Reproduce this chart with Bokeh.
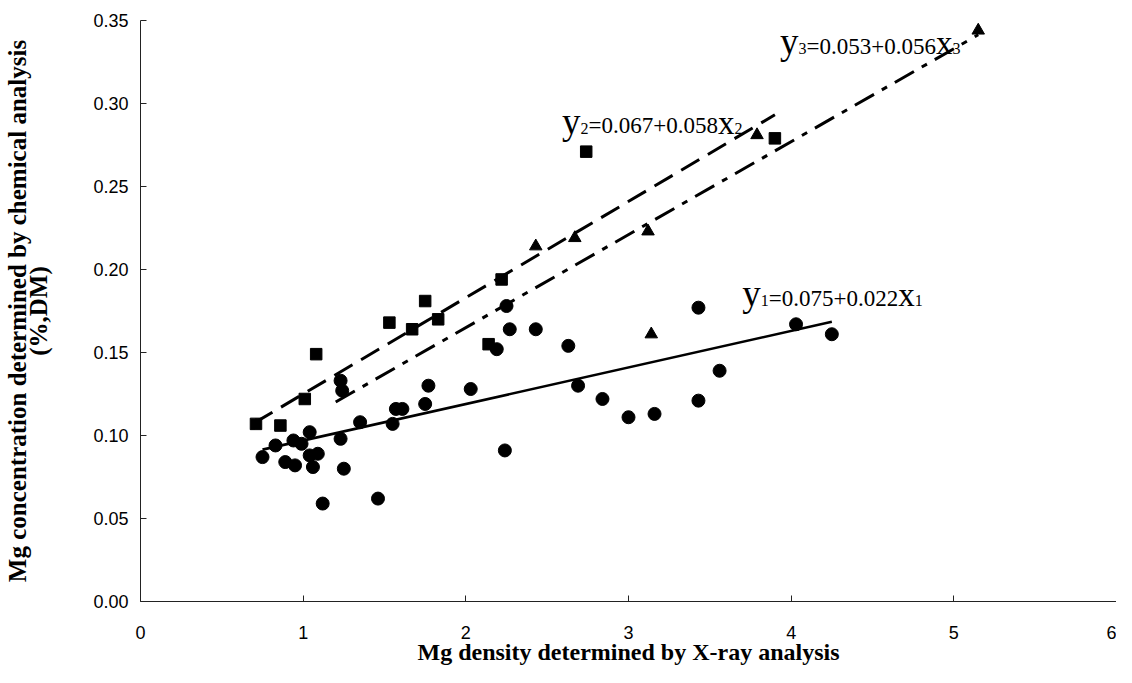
from bokeh.plotting import figure
from bokeh.models import Range1d, FixedTicker, NumeralTickFormatter, ColumnDataSource
from bokeh.core.properties import value
from bokeh.embed import file_html
from bokeh.resources import INLINE

# ---- data ----
circle_x = [0.75, 0.83, 0.89, 0.95, 0.94, 0.99, 1.04, 1.04, 1.09, 1.06, 1.12, 1.23, 1.25,
            1.23, 1.24, 1.35, 1.46, 1.55, 1.57, 1.61, 1.75, 1.77, 2.03, 2.19, 2.24, 2.25,
            2.27, 2.43, 2.63, 2.69, 2.84, 3.00, 3.16, 3.43, 3.43, 3.56, 4.03, 4.25]
circle_y = [0.087, 0.094, 0.084, 0.082, 0.097, 0.095, 0.102, 0.088, 0.089, 0.081, 0.059, 0.098, 0.080,
            0.133, 0.127, 0.108, 0.062, 0.107, 0.116, 0.116, 0.119, 0.130, 0.128, 0.152, 0.091, 0.178,
            0.164, 0.164, 0.154, 0.130, 0.122, 0.111, 0.113, 0.121, 0.177, 0.139, 0.167, 0.161]

square_x = [0.71, 0.86, 1.01, 1.08, 1.53, 1.67, 1.75, 1.83, 2.14, 2.22, 2.74, 3.90]
square_y = [0.107, 0.106, 0.122, 0.149, 0.168, 0.164, 0.181, 0.170, 0.155, 0.194, 0.271, 0.279]

triangle_x = [2.43, 2.67, 3.12, 3.14, 3.79, 5.15]
triangle_y = [0.214, 0.219, 0.223, 0.161, 0.281, 0.344]

# regression equations: intercept, slope, x-extent
fit1 = (0.075, 0.022, 0.75, 4.25)
fit2 = (0.067, 0.058, 0.70, 3.90)
fit3 = (0.053, 0.056, 1.20, 5.15)

x_ticks = [0, 1, 2, 3, 4, 5, 6]
y_ticks = [0.0, 0.05, 0.10, 0.15, 0.20, 0.25, 0.30, 0.35]

x_title = "Mg density determined by X-ray analysis"
y_title = "Mg concentration determined by chemical analysis\n(%,DM)"

# equation labels: parts and anchor (data units)
eq1 = ["y", "1", "=0.075+0.022", "x", "1"]
eq2 = ["y", "2", "=0.067+0.058", "x", "2"]
eq3 = ["y", "3", "=0.053+0.056", "x", "3"]
eq_anchor = [(3.70, 0.1825), (2.591, 0.2865), (3.931, 0.3345)]

# ---- figure ----
p = figure(width=1116, height=667, output_backend="svg", toolbar_location=None,
           x_range=Range1d(0, 6), y_range=Range1d(0, 0.35),
           min_border_left=139, min_border_right=0, min_border_top=20, min_border_bottom=66,
           background_fill_color="white", border_fill_color="white")
p.outline_line_color = None
p.grid.visible = False

def line_pts(f):
    a, b, lo, hi = f
    return [lo, hi], [a + b * lo, a + b * hi]

xs, ys = line_pts(fit1)
p.line(xs, ys, line_color="black", line_width=2.6)
xs, ys = line_pts(fit2)
p.line(xs, ys, line_color="black", line_width=3, line_dash="21 10")
xs, ys = line_pts(fit3)
p.line(xs, ys, line_color="black", line_width=3, line_dash="22 9 6 9")

p.scatter(circle_x, circle_y, marker="circle", size=13, color="black")
p.scatter(square_x, square_y, marker="square", size=11.5, color="black")
p.scatter(triangle_x, triangle_y, marker="triangle", size=12.5, color="black")

# equation text pieces, baselines aligned via per-size vertical compensation
psz = [37, 16, 23, 33, 16]
offsets = [0, 18.5, 26.5, 156.0, 172.5]
k = 0.33
for eq, (ax, ay) in zip([eq1, eq2, eq3], eq_anchor):
    src = ColumnDataSource(dict(x=[ax] * 5, y=[ay] * 5, t=eq,
                                fs=[f"{s}px" for s in psz], xo=offsets,
                                yo=[-(s - 23) * k for s in psz]))
    p.text(x="x", y="y", text="t", x_offset="xo", y_offset="yo", text_font_size="fs",
           source=src, text_font=value("Liberation Serif"), text_color="black",
           text_baseline="alphabetic", text_align="left")

# axes
p.xaxis.ticker = FixedTicker(ticks=x_ticks)
p.yaxis.ticker = FixedTicker(ticks=y_ticks)
p.yaxis.formatter = NumeralTickFormatter(format="0.00")
for ax in p.axis:
    ax.axis_line_color = "#222222"
    ax.axis_line_width = 1
    ax.major_tick_line_color = "#222222"
    ax.major_tick_in = 6
    ax.major_tick_out = 0
    ax.minor_tick_line_color = None
    ax.major_label_text_font = "Liberation Sans"
    ax.major_label_text_font_size = "18px"
    ax.major_label_text_color = "black"
    ax.axis_label_text_font = "Liberation Serif"
    ax.axis_label_text_font_style = "bold"
    ax.axis_label_text_font_size = "25px"
    ax.axis_label_text_color = "black"
    ax.axis_label_text_line_height = 0.8

p.xaxis.axis_label = x_title
p.xaxis.axis_label_text_font_size = "24px"
p.xaxis.major_label_standoff = 24
p.xaxis.axis_label_standoff = -3
p.yaxis.axis_label = y_title
p.yaxis.major_label_standoff = 12
p.yaxis.axis_label_standoff = 38

open("out.html", "w").write(file_html(p, INLINE))
